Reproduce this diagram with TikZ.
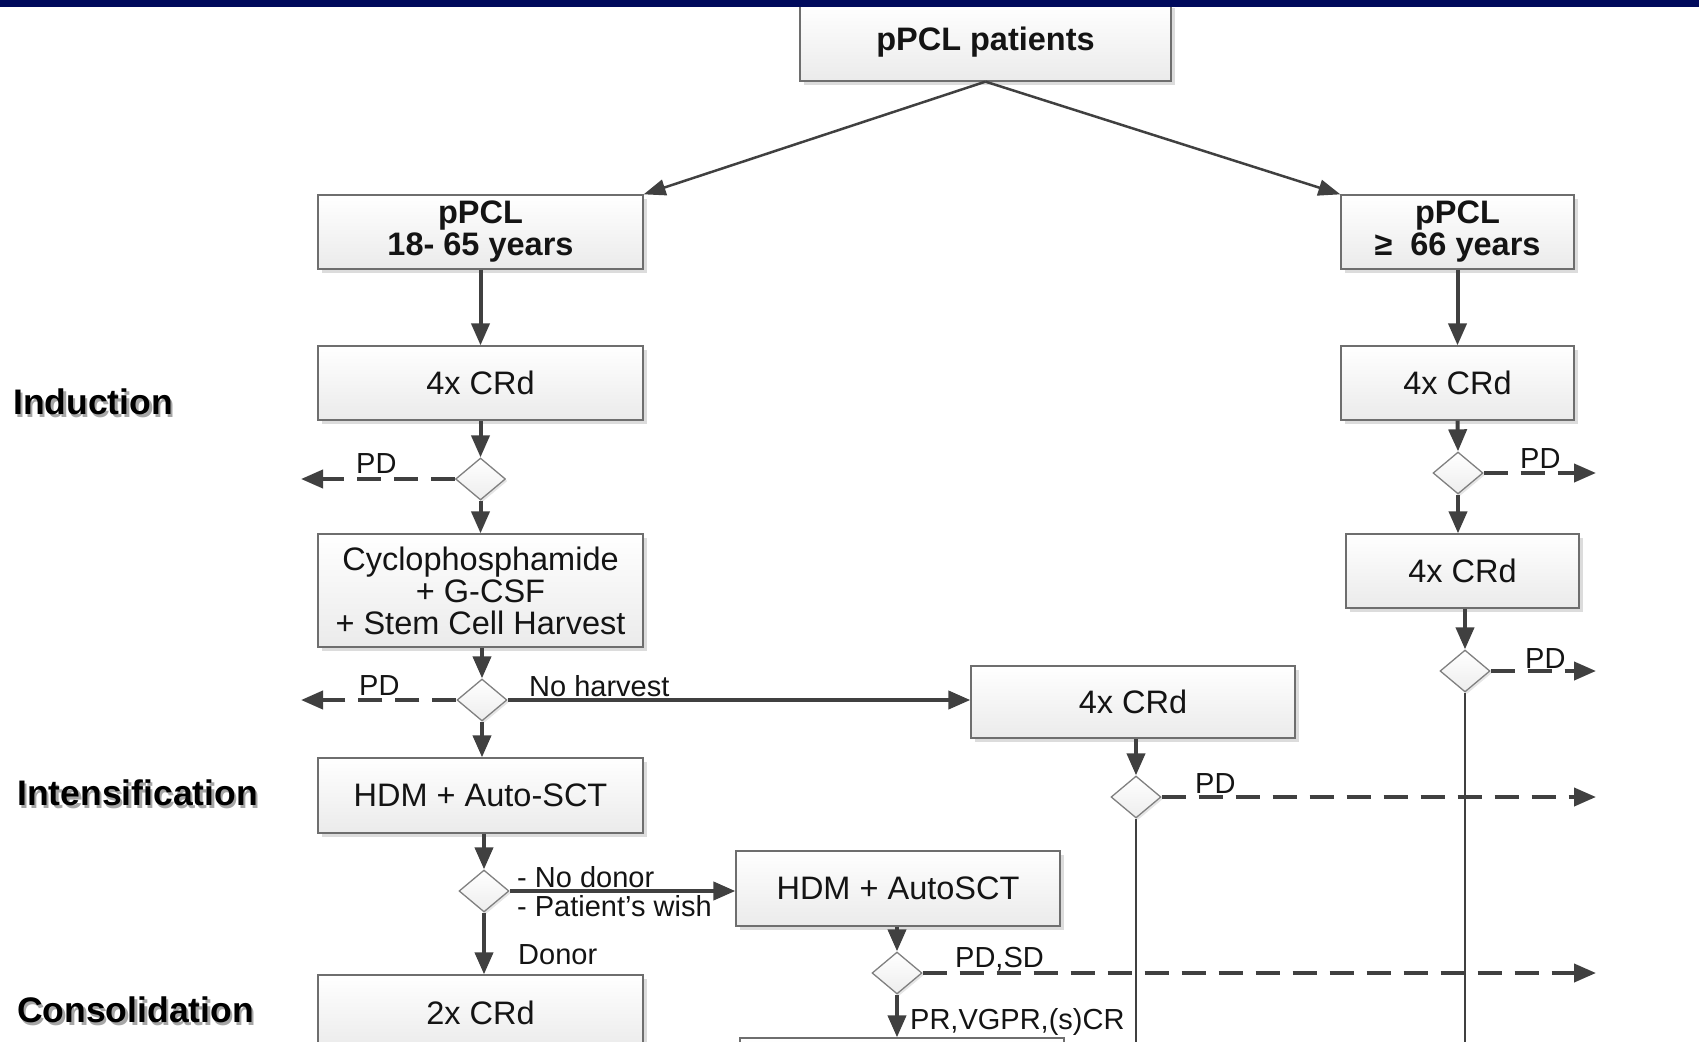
\documentclass[tikz,border=0pt]{standalone}
\usepackage{fontspec}
\setmainfont{Liberation Sans}
\usetikzlibrary{arrows.meta,shapes.geometric,shadows,calc}
\definecolor{ln}{HTML}{404040}
\definecolor{bd}{HTML}{6E6E6E}
\definecolor{navy}{HTML}{000A5C}
\definecolor{txt}{HTML}{141414}
\newcommand{\shtext}[1]{{\color{black!35}\rlap{\hspace{2.5pt}\raisebox{-3pt}{#1}}}#1}
\begin{document}
\begin{tikzpicture}[x=1pt,y=-1pt,
  box/.style={draw=bd, line width=1.3pt, top color=white, bottom color=black!8,
    drop shadow={shadow xshift=4pt,shadow yshift=-4pt,opacity=0.3,fill=black!45},
    text=txt, font=\fontsize{32.5}{32}\selectfont, align=center, inner sep=0pt},
  boxb/.style={box, font=\bfseries\fontsize{32.5}{32}\selectfont},
  dia/.style={diamond, draw=black!50, line width=1.3pt, top color=white, bottom color=black!7,
    minimum width=50pt, minimum height=42pt, inner sep=0pt,
    drop shadow={shadow xshift=2pt,shadow yshift=-2pt,opacity=0.25,fill=black!40}},
  arr/.style={draw=ln, line width=4pt, -{Triangle[length=22pt,width=18pt]}},
  tarr/.style={draw=ln, line width=2.5pt, -{Triangle[length=22pt,width=16pt]}},
  thinln/.style={draw=ln, line width=2.5pt},
  darr/.style={arr, dash pattern=on 24pt off 13pt},
  lab/.style={font=\fontsize{29}{30}\selectfont, text=txt, inner sep=0pt, anchor=west},
  sec/.style={font=\bfseries\fontsize{35.5}{36}\selectfont, text=black, inner sep=0pt, anchor=west}
]
\useasboundingbox (0,0) rectangle (1699,1041);
\clip (0,0) rectangle (1699,1041);

% section labels
\node[sec] (ind) at (13,403) {\shtext{Induction}};
\node[sec] (int) at (17,794) {\shtext{Intensification}};
\node[sec] (con) at (17,1011) {\shtext{Consolidation}};

% boxes
\node[boxb, minimum width=371pt, minimum height=77pt] (top) at (985.5,42.5) {pPCL patients};
\node[boxb, minimum width=325pt, minimum height=74pt] (L1) at (480.5,232) {pPCL\\18- 65 years};
\node[boxb, minimum width=233pt, minimum height=74pt] (R1) at (1457.5,232) {pPCL\\≥\ \ 66 years};
\node[box, minimum width=325pt, minimum height=74pt] (L2) at (480.5,383) {4x CRd};
\node[box, minimum width=233pt, minimum height=74pt] (R2) at (1457.5,383) {4x CRd};
\node[box, minimum width=325pt, minimum height=113pt] (cyc) at (480.5,590.5) {Cyclophosphamide\\+ G-CSF\\+ Stem Cell Harvest};
\node[box, minimum width=233pt, minimum height=74pt] (R3) at (1462.5,571) {4x CRd};
\node[box, minimum width=324pt, minimum height=72pt] (mid) at (1133,702) {4x CRd};
\node[box, minimum width=325pt, minimum height=75pt] (hdm1) at (480.5,795.5) {HDM + Auto-SCT};
\node[box, minimum width=324pt, minimum height=75pt] (hdm2) at (898,888.5) {HDM + AutoSCT};
\node[box, minimum width=325pt, minimum height=75pt] (crd2) at (480.5,1012.5) {2x CRd};
\node[box, minimum width=324pt, minimum height=75pt] (bot) at (902,1075.5) {};

% diamonds
\node[dia] (d1) at (480.5,479) {};
\node[dia] (d2) at (482,700) {};
\node[dia] (d3) at (484,891) {};
\node[dia] (d4) at (897,973) {};
\node[dia] (d5) at (1136,797) {};
\node[dia] (d6) at (1458,473) {};
\node[dia] (d7) at (1465,671) {};

% free ends
\coordinate (pd1) at (301,479);
\coordinate (pd2) at (301,700);
\coordinate (pd4) at (1596,973);
\coordinate (pd5) at (1596,797);
\coordinate (pd6) at (1596,473);
\coordinate (pd7) at (1596,671);
\coordinate (end5) at (1136,1050);
\coordinate (end7) at (1465,1050);

% vertical thin lines
\draw[thinln] (d5.south) -- (end5);
\draw[thinln] (d7.south) -- (end7);

% connectors
\draw[tarr] (top.south) -- (L1.north east);
\draw[tarr] (top.south) -- (R1.north west);
\draw[arr] (L1.south) -- (L2.north);
\draw[arr] (L2.south) -- (d1.north);
\draw[darr] (d1.west) -- (pd1);
\draw[arr] (d1.south) -- (cyc.north);
\draw[arr] (cyc.south -| d2.north) -- (d2.north);
\draw[darr] (d2.west) -- (pd2);
\draw[arr] (d2.east) -- (d2.east -| mid.west);
\draw[arr] (d2.south) -- (d2.south |- hdm1.north);
\draw[arr] (hdm1.south -| d3.north) -- (d3.north);
\draw[arr] (d3.east) -- (d3.east -| hdm2.west);
\draw[arr] (d3.south) -- (d3.south |- crd2.north);
\draw[arr] (hdm2.south -| d4.north) -- (d4.north);
\draw[darr] (d4.east) -- (pd4);
\draw[arr] (d4.south) -- (d4.south |- bot.north);
\draw[arr] (mid.south -| d5.north) -- (d5.north);
\draw[darr] (d5.east) -- (pd5);
\draw[arr] (R1.south) -- (R2.north);
\draw[arr] (R2.south) -- (d6.north);
\draw[darr] (d6.east) -- (pd6);
\draw[arr] (d6.south) -- (d6.south |- R3.north);
\draw[arr] (R3.south -| d7.north) -- (d7.north);
\draw[darr] (d7.east) -- (pd7);

% labels
\node[lab] (l1) at (356,464) {PD};
\node[lab] (l2) at (359,686) {PD};
\node[lab] (l3) at (529,686) {No harvest};
\node[lab] (l4) at (517,877) {- No donor};
\node[lab] (l5) at (517,906) {- Patient’s wish};
\node[lab] (l6) at (518,955) {Donor};
\node[lab] (l7) at (955,959) {PD,SD};
\node[lab] (l8) at (910,1022) {PR,VGPR,(s)CR};
\node[lab] (l9) at (1195,784) {PD};
\node[lab] (l10) at (1520,459) {PD};
\node[lab] (l11) at (1525,659) {PD};

% top bar
\fill[navy] (0,0) rectangle (1699,7);
\end{tikzpicture}
\end{document}
